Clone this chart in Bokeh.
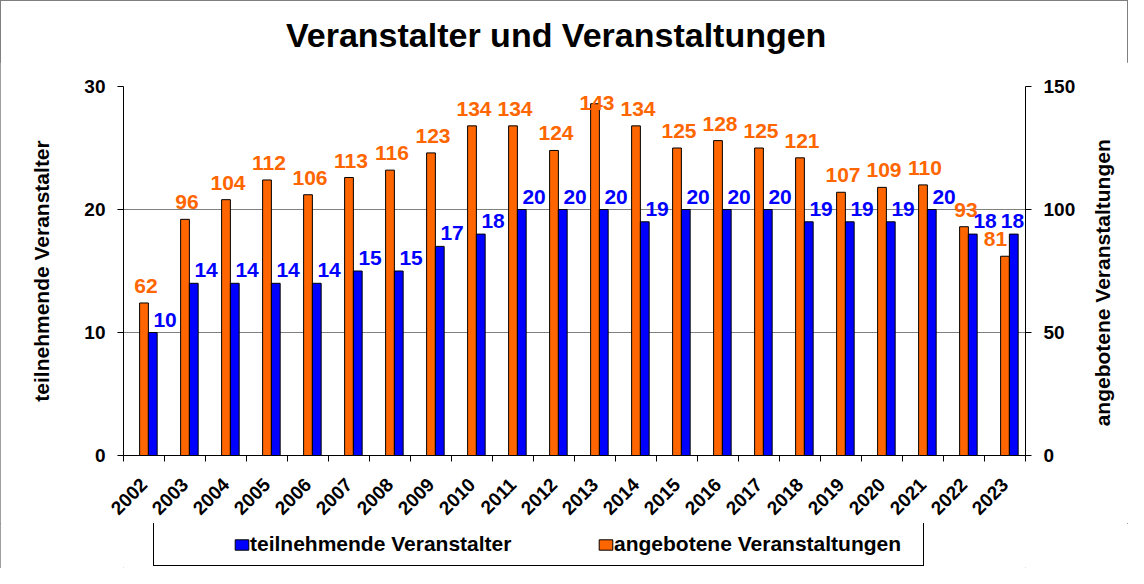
import math
import numpy as np
from bokeh.plotting import figure
from bokeh.layouts import column
from bokeh.models import Range1d, LinearAxis, FixedTicker, Legend, LegendItem, ColumnDataSource, Div
from bokeh.core.properties import value
from bokeh.embed import file_html
from bokeh.resources import INLINE

# ---- data ----
title_text = "Veranstalter und Veranstaltungen"
years = ["2002", "2003", "2004", "2005", "2006", "2007", "2008", "2009", "2010", "2011", "2012",
         "2013", "2014", "2015", "2016", "2017", "2018", "2019", "2020", "2021", "2022", "2023"]
veranstalter = [10, 14, 14, 14, 14, 15, 15, 17, 18, 20, 20, 20, 19, 20, 20, 20, 19, 19, 19, 20, 18, 18]
veranstaltungen = [62, 96, 104, 112, 106, 113, 116, 123, 134, 134, 124, 143, 134, 125, 128, 125, 121,
                   107, 109, 110, 93, 81]
left_ticks = [0, 10, 20, 30]
right_ticks = [0, 50, 100, 150]
series_names = ["teilnehmende Veranstalter", "angebotene Veranstaltungen"]

# ---- styles ----
FONT = "Liberation Sans"
ORANGE = "#FF6600"
BLUE = "#0000FF"
BAR_W = 0.214
LABEL_CAP = 136.5      # keep orange labels inside the plot area
BLUE_LAB_SHIFT = 0.3   # blue labels sit a little right of their bar
LAB_EDGE = 0.32        # keep labels inside the right edge
OR_EDGE = 0.78
W = 1128
H_TITLE = 62
H_MAIN = 461
H_LEG = 45

n = len(years)
idx = np.arange(n)
xb = idx + BAR_W
src = ColumnDataSource(dict(
    x=idx.astype(float),
    xb=xb,
    ang=veranstaltungen,
    teil=veranstalter,
    ang_x=np.minimum(idx.astype(float), n - 0.5 - OR_EDGE),
    ang_y=np.minimum(np.array(veranstaltungen, dtype=float), LABEL_CAP),
    teil_x=np.minimum(xb + BLUE_LAB_SHIFT, n - 0.5 - LAB_EDGE),
    ang_t=[str(v) for v in veranstaltungen],
    teil_t=[str(v) for v in veranstalter],
))

# ---- title ----
title_div = Div(
    text=('<div style="position:relative; left:286px; top:18px; font-family:\'Liberation Sans\', Arial, sans-serif; '
          'font-size:34px; font-weight:bold; color:#000; line-height:1; white-space:nowrap;">'
          + title_text + '</div>'),
    width=W, height=H_TITLE, margin=(0, 0, 0, 0))

# ---- main chart ----
p = figure(width=W, height=H_MAIN, x_range=Range1d(-0.5, n - 0.5), y_range=Range1d(0, 30),
           output_backend="svg", toolbar_location=None,
           min_border_left=123, min_border_right=100, min_border_top=86 - H_TITLE,
           min_border_bottom=68)
p.extra_y_ranges = {"right": Range1d(0, 150)}
p.outline_line_color = None
p.background_fill_color = "white"
p.border_fill_color = "white"

# bars
r_or = p.vbar(x="x", top="ang", width=BAR_W, bottom=0, y_range_name="right", source=src,
              fill_color=ORANGE, line_color="black", line_width=1)
r_bl = p.vbar(x="xb", top="teil", width=BAR_W, bottom=0, source=src,
              fill_color=BLUE, line_color="black", line_width=1)

# data labels
p.text(x="ang_x", y="ang_y", text="ang_t", y_range_name="right", source=src,
       text_color=ORANGE, text_font=value(FONT), text_font_style="bold", text_font_size="21px",
       text_align="center", text_baseline="alphabetic", x_offset=2, y_offset=-17)
p.text(x="teil_x", y="teil", text="teil_t", source=src,
       text_color=BLUE, text_font=value(FONT), text_font_style="bold", text_font_size="21px",
       text_align="center", text_baseline="alphabetic", y_offset=-13)

# x axis
xa = p.xaxis[0]
xa.ticker = FixedTicker(ticks=[float(i) for i in idx], minor_ticks=[float(i) - 0.5 for i in range(n + 1)])
xa.major_label_overrides = {int(i): y for i, y in zip(idx, years)}
xa.major_tick_line_color = None
xa.major_tick_out = 0
xa.major_tick_in = 0
xa.minor_tick_line_color = "black"
xa.minor_tick_out = 6
xa.minor_tick_in = 0
xa.major_label_orientation = math.pi / 4
xa.major_label_standoff = 20
xa.major_label_text_font = FONT
xa.major_label_text_font_style = "bold"
xa.major_label_text_font_size = "19px"
xa.major_label_text_color = "black"
xa.axis_line_color = "black"

# left axis
ya = p.yaxis[0]
ya.ticker = FixedTicker(ticks=left_ticks)
ya.minor_tick_line_color = None
ya.major_tick_out = 6
ya.major_tick_in = 0
ya.major_label_standoff = 12
ya.major_label_text_font = FONT
ya.major_label_text_font_style = "bold"
ya.major_label_text_font_size = "19px"
ya.major_label_text_color = "black"
ya.axis_line_color = "black"
ya.axis_label = series_names[0]
ya.axis_label_text_font = FONT
ya.axis_label_text_font_style = "bold"
ya.axis_label_text_font_size = "21px"
ya.axis_label_text_color = "black"
ya.axis_label_standoff = 28

# right axis
ra = LinearAxis(y_range_name="right", ticker=FixedTicker(ticks=right_ticks))
ra.minor_tick_line_color = None
ra.major_tick_out = 6
ra.major_tick_in = 0
ra.major_label_standoff = 12
ra.major_label_text_font = FONT
ra.major_label_text_font_style = "bold"
ra.major_label_text_font_size = "19px"
ra.major_label_text_color = "black"
ra.axis_line_color = "black"
ra.axis_label_text_font = FONT
ra.axis_label_text_font_style = "bold"
ra.axis_label_text_font_size = "21px"
ra.axis_label_text_color = "black"
ra.axis_label_standoff = 24
try:
    ra.axis_label_align = "start"
    ra.axis_label_orientation = math.pi / 2
    ra.axis_label = "\u00a0" * 5 + series_names[1]
except Exception:
    ra.axis_label = series_names[1]
p.add_layout(ra, "right")

# grid
p.xgrid.visible = False
p.ygrid.ticker = FixedTicker(ticks=left_ticks)
p.ygrid.grid_line_color = "#808080"
p.ygrid.grid_line_alpha = 1

# ---- legend strip ----
q = figure(width=W, height=H_LEG, x_range=Range1d(0, 1), y_range=Range1d(0, 1),
           output_backend="svg", toolbar_location=None,
           min_border_left=0, min_border_right=0, min_border_top=0, min_border_bottom=0)
q.axis.visible = False
q.grid.visible = False
q.outline_line_color = None
q.background_fill_color = "white"
q.border_fill_color = "white"
lg_bl = q.vbar(x="xb", top="teil", width=BAR_W, source=src,
               fill_color=BLUE, line_color="black", line_width=1, visible=False)
lg_or = q.vbar(x="x", top="ang", width=BAR_W, source=src,
               fill_color=ORANGE, line_color="black", line_width=1, visible=False)
legend = Legend(items=[LegendItem(label=series_names[0], renderers=[lg_bl]),
                       LegendItem(label=series_names[1], renderers=[lg_or])],
                orientation="horizontal", location=(30, 2), margin=0, padding=9, spacing=47,
                glyph_width=17, glyph_height=13, label_standoff=0, label_width=300, label_height=22,
                label_text_font=FONT, label_text_font_style="bold", label_text_font_size="21px",
                label_text_color="black", inactive_fill_alpha=0,
                border_line_color="black", border_line_width=1, border_line_alpha=1,
                background_fill_color="white", background_fill_alpha=1,
                title=" ", title_location="left", title_text_font_size="10px", title_standoff=59)
q.add_layout(legend, "center")

layout = column(title_div, p, q, spacing=0)
layout.styles = {"outline": "1px solid #7f7f7f", "outline-offset": "-1px"}

open("out.html", "w").write(file_html(layout, INLINE))
